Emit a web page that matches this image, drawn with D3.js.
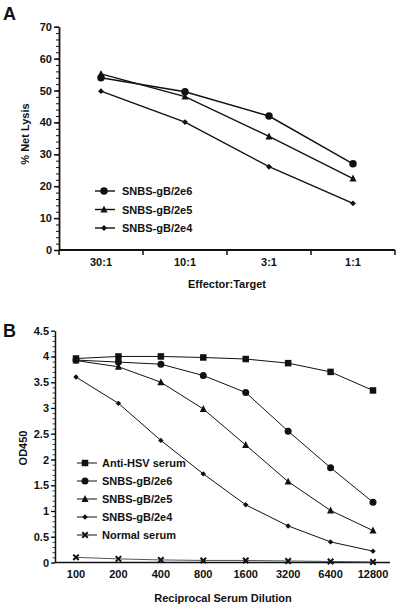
<!DOCTYPE html>
<html><head><meta charset="utf-8">
<script src="https://cdn.jsdelivr.net/npm/d3@7"></script>
<style>
body{margin:0;background:#fff;}
svg{display:block;font-family:"Liberation Sans",Arial,Helvetica,sans-serif;}
text{font-weight:bold;fill:#111;}
</style></head><body>
<svg id="c" width="400" height="609"></svg>
<script>
// ---- Panel A data ----
const ratios = ["30:1","10:1","3:1","1:1"];
const lysis2e6 = [54, 49.6, 42.0, 27.0];
const lysis2e5 = [55.2, 48.1, 35.6, 22.4];
const lysis2e4 = [49.8, 40.1, 26.1, 14.6];
const yTicksA = [0,10,20,30,40,50,60,70];

// ---- Panel B data ----
const dilutions = ["100","200","400","800","1600","3200","6400","12800"];
const antiHSV = [3.96, 4.0, 4.0, 3.98, 3.95, 3.87, 3.70, 3.34];
const od2e6 = [3.93, 3.89, 3.85, 3.63, 3.30, 2.55, 1.84, 1.17];
const od2e5 = [3.92, 3.80, 3.50, 2.98, 2.28, 1.57, 1.01, 0.62];
const od2e4 = [3.60, 3.09, 2.37, 1.72, 1.12, 0.71, 0.40, 0.22];
const normal = [0.10, 0.07, 0.05, 0.04, 0.04, 0.03, 0.02, 0.01];
const yTicksB = [0,0.5,1,1.5,2,2.5,3,3.5,4,4.5];

const svg = d3.select("#c");
const ink = "#111";

function marker(g, type, x, y, s) {
  if (type === "circle") {
    g.append("circle").attr("cx", x).attr("cy", y).attr("r", s*0.5).attr("fill", ink);
  } else if (type === "square") {
    g.append("rect").attr("x", x - s/2).attr("y", y - s/2).attr("width", s).attr("height", s).attr("fill", ink);
  } else if (type === "triangle") {
    const h = s*0.95;
    g.append("path").attr("d", `M${x},${y-h*0.6}L${x+s/2},${y+h*0.45}L${x-s/2},${y+h*0.45}Z`).attr("fill", ink);
  } else if (type === "diamond") {
    const r = s*0.45;
    g.append("path").attr("d", `M${x},${y-r}L${x+r},${y}L${x},${y+r}L${x-r},${y}Z`).attr("fill", ink);
  } else if (type === "cross") {
    const r = s*0.42;
    g.append("path").attr("d", `M${x-r},${y-r}L${x+r},${y+r}M${x+r},${y-r}L${x-r},${y+r}`).attr("stroke", ink).attr("stroke-width", 2);
  }
}

// ================= PANEL A =================
const gA = svg.append("g");
const xA = d3.scaleBand().domain(ratios).range([59, 395]).padding(0);
const yA = d3.scaleLinear().domain([0, 70]).range([250, 26.7]);

gA.append("text").attr("x", 3).attr("y", 20).attr("font-size", 18).text("A");

const yAxA = gA.append("g").attr("transform", "translate(59,0)")
  .call(d3.axisLeft(yA).tickValues(yTicksA).tickSize(5).tickSizeOuter(0).tickPadding(2));
yAxA.select(".domain").attr("stroke", ink).attr("stroke-width", 1.8);
yAxA.selectAll(".tick line").attr("stroke", ink).attr("stroke-width", 1.5);
yAxA.selectAll(".tick text").attr("font-size", 11).attr("font-family", "Liberation Sans, Arial, sans-serif").attr("font-weight", "bold").attr("fill", ink);
const yMinA = gA.append("g").attr("transform", "translate(59,0)")
  .call(d3.axisLeft(yA).tickValues(d3.range(0, 71, 2)).tickSize(3).tickFormat(""));
yMinA.select(".domain").remove();
yMinA.selectAll(".tick line").attr("stroke", ink).attr("stroke-width", 1);

const baseA = yA(0);
gA.append("line").attr("x1", 59).attr("x2", 395).attr("y1", baseA).attr("y2", baseA).attr("stroke", ink).attr("stroke-width", 1.8);
ratios.forEach(r => {
  const xe = xA(r) + xA.bandwidth();
  gA.append("line").attr("x1", xe).attr("x2", xe).attr("y1", baseA).attr("y2", baseA + 5).attr("stroke", ink).attr("stroke-width", 1.5);
  gA.append("text").attr("x", xA(r) + xA.bandwidth()/2).attr("y", 266).attr("text-anchor", "middle").attr("font-size", 11).text(r);
});
gA.append("line").attr("x1", 59).attr("x2", 59).attr("y1", baseA).attr("y2", baseA + 5).attr("stroke", ink).attr("stroke-width", 1.5);

gA.append("text").attr("x", 227).attr("y", 288).attr("text-anchor", "middle").attr("font-size", 11).text("Effector:Target");
gA.append("text").attr("transform", "translate(29,134) rotate(-90)").attr("text-anchor", "middle").attr("font-size", 11).text("% Net Lysis");

const seriesA = [
  {name: "SNBS-gB/2e6", vals: lysis2e6, m: "circle", s: 7.5},
  {name: "SNBS-gB/2e5", vals: lysis2e5, m: "triangle", s: 7},
  {name: "SNBS-gB/2e4", vals: lysis2e4, m: "diamond", s: 6.5}
];
const lineA = d3.line().x((d, i) => xA(ratios[i]) + xA.bandwidth()/2).y(d => yA(d));
seriesA.forEach(s => {
  gA.append("path").attr("d", lineA(s.vals)).attr("fill", "none").attr("stroke", ink).attr("stroke-width", 1.4);
  s.vals.forEach((v, i) => marker(gA, s.m, xA(ratios[i]) + xA.bandwidth()/2, yA(v), s.s));
});
seriesA.forEach((s, i) => {
  const y = 191 + i * 18.5;
  gA.append("line").attr("x1", 95).attr("x2", 115).attr("y1", y).attr("y2", y).attr("stroke", ink).attr("stroke-width", 1.4);
  marker(gA, s.m, 104, y, s.s);
  gA.append("text").attr("x", 122).attr("y", y + 4).attr("font-size", 11).text(s.name);
});

// ================= PANEL B =================
const gB = svg.append("g");
const xB = d3.scalePoint().domain(dilutions).range([76, 373]);
const yB = d3.scaleLinear().domain([0, 4.5]).range([562.5, 330.7]);

gB.append("text").attr("x", 3).attr("y", 337).attr("font-size", 18).text("B");

const yAxB = gB.append("g").attr("transform", "translate(55,0)")
  .call(d3.axisLeft(yB).tickValues(yTicksB).tickSize(4).tickSizeOuter(0).tickPadding(2).tickFormat(d => String(d)));
yAxB.select(".domain").attr("stroke", ink).attr("stroke-width", 1.5);
yAxB.selectAll(".tick line").attr("stroke", ink).attr("stroke-width", 1.3);
yAxB.selectAll(".tick text").attr("font-size", 11).attr("font-family", "Liberation Sans, Arial, sans-serif").attr("font-weight", "bold").attr("fill", ink);
const yMinB = gB.append("g").attr("transform", "translate(55,0)")
  .call(d3.axisLeft(yB).tickValues(d3.range(0, 45).map(d => d / 10)).tickSize(2.5).tickFormat(""));
yMinB.select(".domain").remove();
yMinB.selectAll(".tick line").attr("stroke", ink).attr("stroke-width", 0.8);

const baseB = yB(0);
gB.append("line").attr("x1", 55).attr("x2", 390).attr("y1", baseB).attr("y2", baseB).attr("stroke", ink).attr("stroke-width", 1.6);
dilutions.forEach(d => {
  gB.append("text").attr("x", xB(d)).attr("y", 578).attr("text-anchor", "middle").attr("font-size", 11).text(d);
});
gB.append("text").attr("x", 223).attr("y", 602).attr("text-anchor", "middle").attr("font-size", 11).text("Reciprocal Serum Dilution");
gB.append("text").attr("transform", "translate(27,448) rotate(-90)").attr("text-anchor", "middle").attr("font-size", 11).text("OD450");

const seriesB = [
  {name: "Anti-HSV serum", vals: antiHSV, m: "square", s: 6.5},
  {name: "SNBS-gB/2e6", vals: od2e6, m: "circle", s: 7},
  {name: "SNBS-gB/2e5", vals: od2e5, m: "triangle", s: 7},
  {name: "SNBS-gB/2e4", vals: od2e4, m: "diamond", s: 6},
  {name: "Normal serum", vals: normal, m: "cross", s: 6.5}
];
const lineB = d3.line().x((d, i) => xB(dilutions[i])).y(d => yB(d));
seriesB.forEach(s => {
  gB.append("path").attr("d", lineB(s.vals)).attr("fill", "none").attr("stroke", s.m === "cross" ? "#555" : ink).attr("stroke-width", 1);
  s.vals.forEach((v, i) => marker(gB, s.m, xB(dilutions[i]), yB(v), s.s));
});
seriesB.forEach((s, i) => {
  const y = 463 + i * 18;
  gB.append("line").attr("x1", 77).attr("x2", 97).attr("y1", y).attr("y2", y).attr("stroke", ink).attr("stroke-width", 1);
  marker(gB, s.m, 85, y, s.s);
  gB.append("text").attr("x", 102).attr("y", y + 4).attr("font-size", 11).text(s.name);
});
</script>
</body></html>
